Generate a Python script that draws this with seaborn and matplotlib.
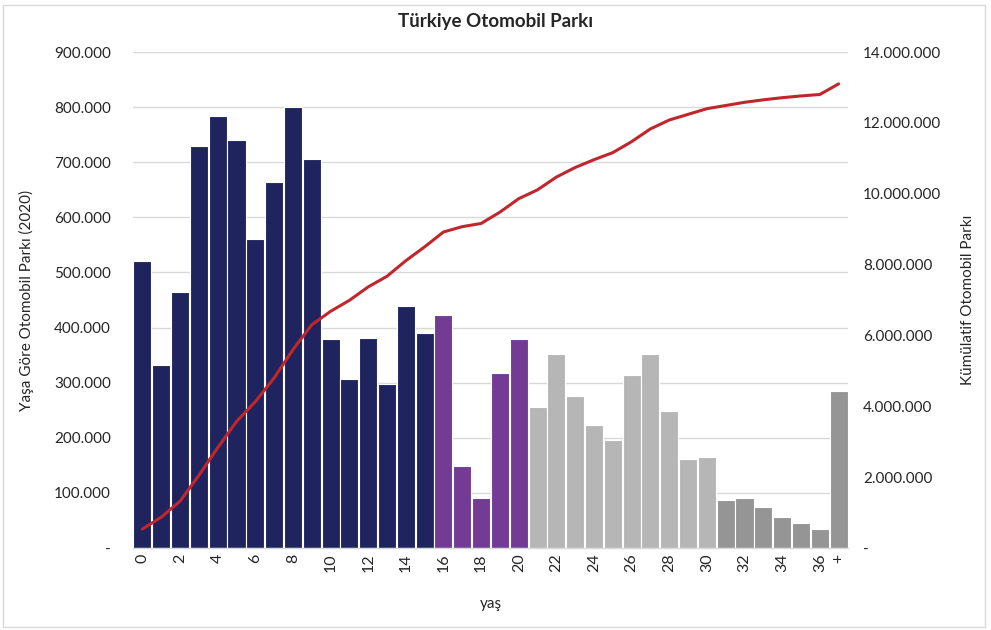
import matplotlib
matplotlib.use("Agg")
import matplotlib.pyplot as plt
import matplotlib.ticker as mticker
from matplotlib.patches import Rectangle
import seaborn as sns
import pandas as pd

# ---- data ----
ages = [str(i) for i in range(37)] + ["+"]
fleet_by_age = [521, 332, 465, 730, 784, 740, 561, 664, 800, 706,
                379, 307, 381, 298, 439, 390, 423, 149, 91, 318,
                379, 256, 352, 276, 223, 196, 314, 352, 249, 162,
                165, 87, 91, 74, 56, 45, 34, 285]          # thousands
cumulative = [536, 870, 1320, 2050, 2830, 3570, 4130, 4800, 5600, 6300,
              6680, 6990, 7370, 7670, 8110, 8500, 8920, 9070, 9160, 9480,
              9860, 10110, 10470, 10740, 10960, 11160, 11470, 11830, 12080, 12240,
              12400, 12490, 12580, 12650, 12710, 12760, 12800, 13100]  # thousands
groups = (["g1"] * 16 + ["g2"] * 5 + ["g3"] * 10 + ["g4"] * 7)
palette = {"g1": "#1F245E", "g2": "#733B94", "g3": "#B6B6B6", "g4": "#959595"}

df = pd.DataFrame({"age": ages, "value": [v * 1000 for v in fleet_by_age],
                   "group": groups})
df_line = pd.DataFrame({"pos": list(range(len(ages))),
                        "cum": [v * 1000 for v in cumulative]})

sns.set_theme(style="white")
plt.rcParams["font.family"] = ["Lato", "DejaVu Sans"]

FS = 11
TXT = "#262626"

fig = plt.figure(figsize=(9.91, 6.30), dpi=100)
ax = fig.add_axes([133 / 991, 1 - 548 / 630, (848 - 133) / 991, (548 - 52) / 630])

sns.barplot(data=df, x="age", y="value", hue="group", palette=palette,
            dodge=False, width=0.96, edgecolor="white", linewidth=0.8,
            legend=False, ax=ax, saturation=1)

ax.set_ylim(0, 900000)
ax.set_xlim(-0.5, len(ages) - 0.5)
ax.yaxis.set_major_locator(mticker.MultipleLocator(100000))
fmt = mticker.FuncFormatter(lambda v, p: "-" if v == 0 else f"{int(round(v)):,}".replace(",", "."))
ax.yaxis.set_major_formatter(fmt)
ax.grid(axis="y", color="#D9D9D9", linewidth=1)
ax.set_axisbelow(True)
for s in ["top", "right", "left"]:
    ax.spines[s].set_visible(False)
ax.spines["bottom"].set_color("#D9D9D9")
ax.spines["bottom"].set_linewidth(1)

tick_pos = list(range(0, 37, 2)) + [37]
ax.set_xticks(tick_pos)
ax.set_xticklabels([ages[i] for i in tick_pos], rotation=90, fontsize=11.5, color=TXT)
ax.tick_params(axis="y", labelsize=FS, labelcolor=TXT, length=0, pad=16)
ax.tick_params(axis="x", pad=4, length=0)
ax.set_xlabel("yaş", fontsize=FS, color=TXT, labelpad=18)
ax.set_ylabel("Yaşa Göre Otomobil Parkı (2020)", fontsize=FS, color=TXT, labelpad=14)

ax2 = ax.twinx()
sns.lineplot(data=df_line, x="pos", y="cum", color="#C0262C", linewidth=2.2, ax=ax2)
ax2.set_ylim(0, 14000000)
ax2.yaxis.set_major_locator(mticker.MultipleLocator(2000000))
ax2.yaxis.set_major_formatter(fmt)
ax2.tick_params(axis="y", labelsize=FS, labelcolor=TXT, length=0, pad=11)
for s in ["top", "right", "left", "bottom"]:
    ax2.spines[s].set_visible(False)
ax2.set_ylabel("Kümülatif Otomobil Parkı", fontsize=FS, color=TXT, labelpad=14)
ax2.set_xlim(-0.5, len(ages) - 0.5)
ax2.grid(False)

fig.text(0.5, 1 - 21 / 630, "Türkiye Otomobil Parkı", ha="center", va="center",
         fontsize=13.5, fontweight="bold", color=TXT)

fig.patches.append(Rectangle((3 / 991, 3 / 630), 982 / 991, 622 / 630, transform=fig.transFigure,
                             fill=False, edgecolor="#D9D9D9", linewidth=1))

fig.savefig("out.png", dpi=100)
